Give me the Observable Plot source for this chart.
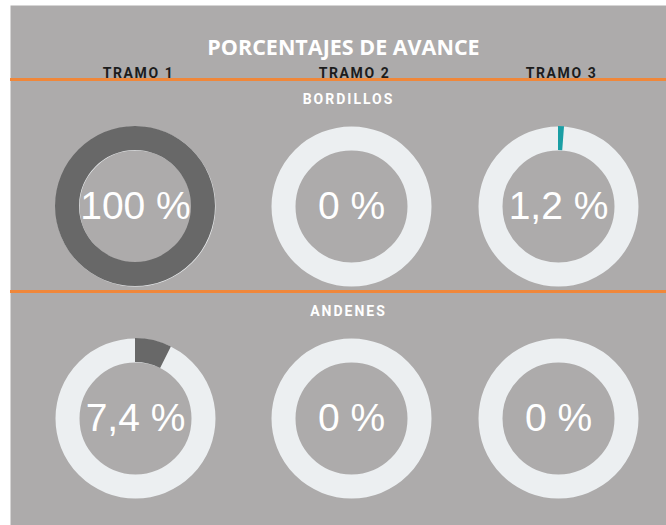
<!DOCTYPE html>
<html><head><meta charset="utf-8">
<script src="https://cdn.jsdelivr.net/npm/d3@7"></script>
<script src="https://cdn.jsdelivr.net/npm/@observablehq/plot@0.6"></script>
<style>
body{margin:0;background:#fff;}
</style></head><body><div id="chart"></div>
<script>
const titulo = "PORCENTAJES DE AVANCE";
const tramos = ["TRAMO 1", "TRAMO 2", "TRAMO 3"];
const secciones = ["BORDILLOS", "ANDENES"];
const avanceBordillos = [100, 0, 1.2];
const avanceAndenes = [7.4, 0, 0];
const etiquetasBordillos = ["100 %", "0 %", "1,2 %"];
const etiquetasAndenes = ["7,4 %", "0 %", "0 %"];

const celdas = [
  ...tramos.map((t, i) => ({seccion: "BORDILLOS", tramo: t, valor: avanceBordillos[i], etiqueta: etiquetasBordillos[i]})),
  ...tramos.map((t, i) => ({seccion: "ANDENES", tramo: t, valor: avanceAndenes[i], etiqueta: etiquetasAndenes[i]}))
];

const R_IN = 56, R_OUT = 80;

const plot = Plot.plot({
  width: 666,
  height: 525,
  marginLeft: 10, marginTop: 5, marginRight: 0, marginBottom: 0,
  style: {background: "#fff", overflow: "visible"},
  x: {type: "ordinal", domain: tramos, range: [135, 351, 558], axis: null},
  y: {type: "point", domain: secciones, range: [206, 418], padding: 0, axis: null},
  color: {domain: tramos, range: ["#686868", "#686868", "#1a9ea4"]},
  marks: [
    Plot.frame({fill: "#adabab", stroke: "none"}),
    Plot.text([titulo], {frameAnchor: "top", dx: 5, dy: 34, fill: "#ffffff", fontSize: 21.5, fontWeight: 700, fontFamily: "Open Sans"}),
    Plot.text(tramos, {x: d => d, frameAnchor: "top", dx: 3, dy: 63, fill: "#1c1c1c", fontSize: 14, fontWeight: 700, fontFamily: "Roboto"}),
    Plot.ruleY(secciones, {y: d => d, dy: -127, stroke: "#f0873a", strokeWidth: 3}),
    Plot.text(secciones, {y: d => d, frameAnchor: "middle", dx: 10, dy: -106.5, fill: "#ffffff", fontSize: 14, fontWeight: 700, fontFamily: "Roboto"}),
    Plot.dot(celdas, {x: "tramo", y: "seccion", r: (R_IN + R_OUT) / 2, stroke: "#eceff1", strokeWidth: R_OUT - R_IN, fill: "none"}),
    Plot.dot(celdas, {
      x: "tramo", y: "seccion", fill: "tramo", r: 1,
      render(index, scales, values) {
        const g = d3.create("svg:g");
        const arc = d3.arc().innerRadius(R_IN).outerRadius(R_OUT).startAngle(0);
        for (const i of index) {
          const v = celdas[i].valor;
          if (!(v > 0)) continue;
          g.append("path")
            .attr("transform", `translate(${values.x[i]},${values.y[i]})`)
            .attr("d", arc.endAngle(2 * Math.PI * v / 100)())
            .attr("fill", values.fill[i]);
        }
        return g.node();
      }
    }),
    Plot.text(celdas, {x: "tramo", y: "seccion", text: "etiqueta", fill: "#ffffff", fontSize: 39, fontFamily: "Liberation Sans"})
  ]
});
const svg = d3.select(plot);
svg.selectAll("text").filter(function () { return tramos.includes(this.textContent); })
  .attr("letter-spacing", "1.6px");
svg.selectAll("text").filter(function () { return secciones.includes(this.textContent); })
  .attr("letter-spacing", "2px");
document.getElementById("chart").appendChild(plot);
</script></body></html>
